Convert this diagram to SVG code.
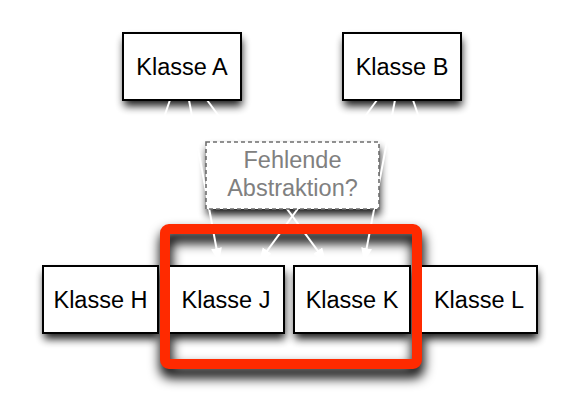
<svg xmlns="http://www.w3.org/2000/svg" width="584" height="416" viewBox="0 0 584 416">
<style>
.box{fill:#fff;stroke:#000;stroke-width:2}
.abs{fill:#fff;stroke:#6e6e6e;stroke-width:1.6;stroke-dasharray:4 3}
.sh{fill:#000;filter:url(#shadow)}
.lbl{font-family:"Liberation Sans",Arial,Helvetica,sans-serif;font-size:23.5px;text-anchor:middle;fill:#000}
.gray{fill:#808080}
.edge{stroke:#fff;stroke-width:2;fill:none;marker-end:url(#arrow)}
</style>
<defs>
<filter id="shadow" x="-30%" y="-30%" width="160%" height="170%">
<feGaussianBlur in="SourceAlpha" stdDeviation="4.5"/>
<feOffset dx="1" dy="6" result="b"/>
<feComponentTransfer><feFuncA type="linear" slope="0.9"/></feComponentTransfer>
</filter>
<filter id="shadowBig" x="-30%" y="-30%" width="160%" height="170%">
<feGaussianBlur in="SourceAlpha" stdDeviation="6"/>
<feOffset dx="1" dy="8" result="b"/>
<feComponentTransfer><feFuncA type="linear" slope="1"/></feComponentTransfer>
</filter>
<marker id="arrow" markerUnits="userSpaceOnUse" markerWidth="15" markerHeight="12" refX="14" refY="5.5" orient="auto">
<path d="M0,0 L14,5.5 L0,11 z" fill="#fff"/>
</marker>
</defs>
<rect width="584" height="416" fill="#fff"/>
<g id="shadows">
<rect class="sh" x="123" y="33" width="118" height="67"/>
<rect class="sh" x="343" y="33" width="118" height="67"/>
<rect class="sh" x="206" y="142" width="173" height="67"/>
<rect class="sh" x="43" y="266" width="115" height="67"/>
<rect class="sh" x="168" y="266" width="116" height="67"/>
<rect class="sh" x="294" y="266" width="116" height="67"/>
<rect class="sh" x="421" y="266" width="116" height="67"/>
<rect x="165" y="229" width="252" height="135" rx="4" fill="none" stroke="#000" stroke-width="12" filter="url(#shadowBig)"/>
</g>
<g id="connectors">
<line class="edge" x1="170" y1="100" x2="114" y2="262"/>
<line class="edge" x1="189" y1="100" x2="219" y2="262"/>
<line class="edge" x1="207" y1="100" x2="326" y2="262"/>
<line class="edge" x1="377" y1="100" x2="259" y2="262"/>
<line class="edge" x1="395" y1="100" x2="364" y2="262"/>
<line class="edge" x1="413" y1="100" x2="468" y2="262"/>
</g>
<g id="klasseA">
<rect class="box" x="123" y="33" width="118" height="67"/>
<text class="lbl" x="182" y="74.5">Klasse A</text>
</g>
<g id="klasseB">
<rect class="box" x="343" y="33" width="118" height="67"/>
<text class="lbl" x="402" y="74.5">Klasse B</text>
</g>
<g id="abstraktion">
<rect class="abs" x="206" y="142" width="173" height="67"/>
<text class="lbl gray" x="292.5" y="168">Fehlende</text>
<text class="lbl gray" x="292.5" y="196">Abstraktion?</text>
</g>
<g id="klasseH">
<rect class="box" x="43" y="266" width="115" height="67"/>
<text class="lbl" x="100.5" y="307.5">Klasse H</text>
</g>
<g id="klasseJ">
<rect class="box" x="168" y="266" width="116" height="67"/>
<text class="lbl" x="226" y="307.5">Klasse J</text>
</g>
<g id="klasseK">
<rect class="box" x="294" y="266" width="116" height="67"/>
<text class="lbl" x="352" y="307.5">Klasse K</text>
</g>
<g id="klasseL">
<rect class="box" x="421" y="266" width="116" height="67"/>
<text class="lbl" x="479" y="307.5">Klasse L</text>
</g>
<g id="highlight">
<rect x="165" y="229" width="252" height="135" rx="4" fill="none" stroke="#ff2a00" stroke-width="10"/>
</g>
</svg>
